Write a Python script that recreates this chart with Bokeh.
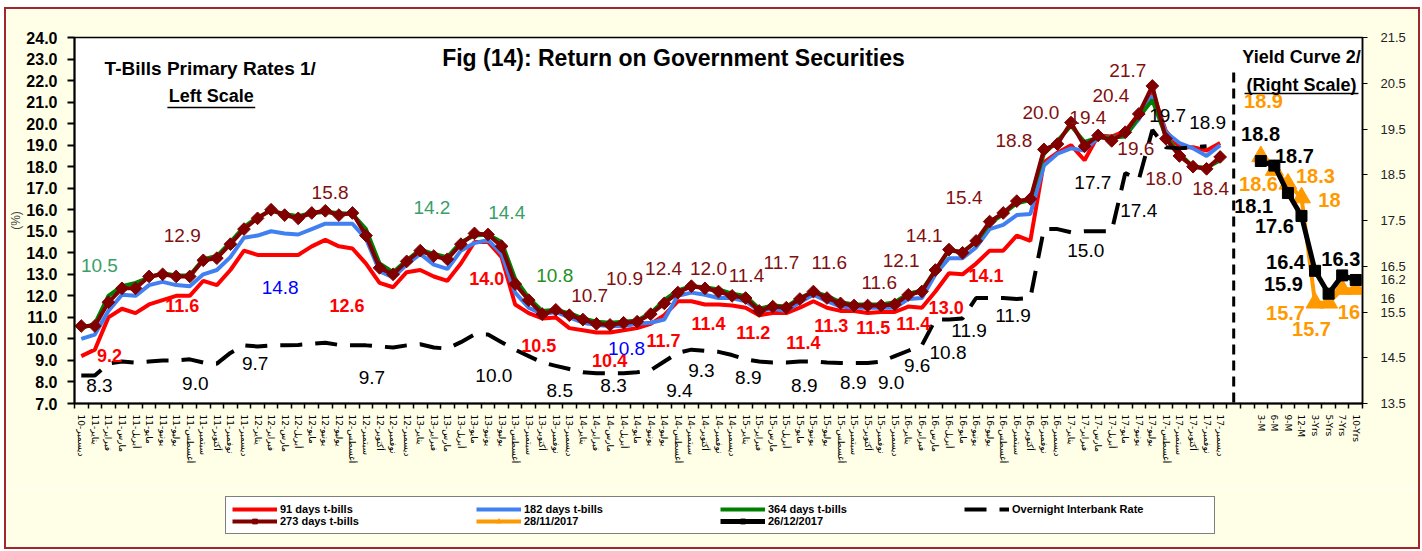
import math
from bokeh.plotting import figure
from bokeh.layouts import column
from bokeh.models import (Range1d, LinearAxis, FixedTicker, PrintfTickFormatter,
                          Label, Legend, LegendItem)
from bokeh.embed import file_html
from bokeh.resources import INLINE

FONT = "Liberation Sans"

# ---------------- data ----------------
months_ar = ["يناير", "فبراير", "مارس", "أبريل", "مايو", "يونيو",
             "يوليو", "أغسطس", "سبتمبر", "أكتوبر", "نوفمبر", "ديسمبر"]
month_labels = ["ديسمبر-10"] + [f"{m}-{y}" for y in range(11, 18) for m in months_ar]
yield_labels = ["3-M", "6-M", "9-M", "12-M", "3-Yrs", "5-Yrs", "7-Yrs", "10-Yrs"]

tb91 = [9.2, 9.5, 11.0, 11.4, 11.2, 11.6, 11.8, 12.0, 12.0, 12.7, 12.5, 13.2,
        14.1, 13.9, 13.9, 13.9, 13.9, 14.3, 14.6, 14.3, 14.2, 13.5, 12.6, 12.4,
        13.1, 13.2, 12.9, 12.7, 13.5, 14.5, 14.5, 13.8, 11.6, 11.2, 10.95, 11.0,
        10.5, 10.4, 10.3, 10.3, 10.4, 10.5, 10.7, 11.1, 11.75, 11.75, 11.6, 11.6,
        11.55, 11.45, 11.1, 11.2, 11.2, 11.45, 11.75, 11.45, 11.3, 11.3, 11.2, 11.25,
        11.25, 11.5, 11.45, 12.2, 13.05, 13.0, 13.5, 14.1, 14.1, 14.8, 14.55, 18.2,
        18.65, 19.0, 18.3, 19.45, 19.4, 19.65, 20.45, 21.5, 19.65, 18.9, 18.9, 18.75,
        19.1]
tb182 = [10.0, 10.2, 11.3, 12.05, 12.0, 12.5, 12.65, 12.5, 12.45, 13.0, 13.2, 13.8,
         14.7, 14.8, 15.0, 14.9, 14.85, 15.1, 15.35, 15.35, 15.35, 14.65, 13.15, 12.85,
         13.45, 13.95, 13.45, 13.25, 14.1, 14.45, 14.6, 13.95, 12.15, 11.45, 11.15, 11.25,
         11.0, 10.75, 10.65, 10.6, 10.6, 10.7, 10.75, 10.9, 12.0, 12.15, 12.05, 11.9,
         11.9, 11.75, 11.3, 11.4, 11.3, 11.7, 12.05, 11.75, 11.5, 11.45, 11.45, 11.45,
         11.45, 11.85, 11.9, 13.0, 13.75, 13.75, 14.25, 15.1, 15.3, 15.75, 15.8, 18.05,
         18.6, 18.85, 18.75, 19.35, 19.35, 19.45, 20.2, 21.3, 19.6, 19.1, 18.85, 18.5,
         19.0]
tb364 = [10.5, 10.7, 12.0, 12.45, 12.6, 12.85, 13.05, 12.95, 12.95, 13.7, 13.85, 14.5,
         15.2, 15.65, 15.95, 15.8, 15.7, 15.85, 15.9, 15.85, 15.8, 15.1, 13.5, 13.1,
         13.65, 14.15, 13.95, 13.8, 14.5, 14.8, 14.85, 14.5, 12.8, 11.9, 11.3, 11.35,
         11.2, 10.95, 10.8, 10.75, 10.8, 10.85, 11.2, 11.8, 12.25, 12.45, 12.4, 12.3,
         12.1, 12.0, 11.4, 11.55, 11.5, 11.9, 12.2, 12.0, 11.7, 11.6, 11.6, 11.6,
         11.7, 12.1, 12.25, 13.2, 14.1, 14.05, 14.5, 15.35, 15.8, 16.3, 16.45, 18.6,
         19.2, 19.9, 19.15, 19.35, 19.35, 19.4, 20.3, 21.1, 19.4, 18.6, 18.0, 17.95,
         18.3]
tb273 = [10.6, 10.6, 11.7, 12.35, 12.35, 12.9, 13.0, 12.9, 12.9, 13.65, 13.75, 14.4,
         15.1, 15.6, 16.0, 15.75, 15.6, 15.85, 15.95, 15.75, 15.85, 14.8, 13.3, 13.0,
         13.6, 14.1, 13.85, 13.7, 14.4, 14.9, 14.85, 14.3, 12.55, 11.8, 11.15, 11.35,
         11.1, 10.9, 10.7, 10.65, 10.75, 10.8, 11.15, 11.65, 12.15, 12.45, 12.35, 12.2,
         12.0, 11.9, 11.3, 11.5, 11.45, 11.85, 12.2, 11.9, 11.65, 11.55, 11.55, 11.55,
         11.6, 12.05, 12.2, 13.2, 14.15, 14.0, 14.55, 15.45, 15.85, 16.4, 16.5, 18.8,
         19.05, 20.05, 18.95, 19.45, 19.2, 19.6, 20.45, 21.75, 19.3, 18.5, 18.0, 17.9,
         18.45]
interbank = [8.3, 8.3, 8.85, 8.95, 8.9, 8.95, 9.0, 9.0, 9.05, 8.9, 8.85, 9.35,
             9.7, 9.65, 9.7, 9.7, 9.72, 9.77, 9.82, 9.72, 9.7, 9.7, 9.65, 9.6,
             9.7, 9.75, 9.6, 9.55, 9.85, 10.2, 10.2, 9.85, 9.5, 9.2, 8.9, 8.75,
             8.6, 8.45, 8.4, 8.4, 8.4, 8.45, 8.55, 8.95, 9.35, 9.5, 9.45, 9.4,
             9.25, 9.05, 8.95, 8.9, 8.9, 8.95, 8.95, 8.9, 8.88, 8.88, 8.88, 8.95,
             9.2, 9.45, 9.7, 10.9, 10.9, 10.95, 11.9, 11.9, 11.9, 11.85, 11.9, 15.1,
             15.1, 14.95, 15.0, 15.0, 15.0, 17.7, 17.4, 19.7, 18.9, 18.85, 18.9, 18.95,
             float("nan")]
yc_nov = [18.9, 18.6, 18.3, 18.0, 15.7, 15.7, 16.0, 16.0]   # 28/11/2017
yc_dec = [18.8, 18.7, 18.1, 17.6, 16.4, 15.9, 16.3, 16.2]   # 26/12/2017

month_x = list(range(len(month_labels)))
yield_x = list(range(87, 87 + len(yield_labels)))
right_ticks = [13.5 + k for k in range(9)]

# value labels: (text, x, y, style)
left_labels = [
    ("10.5", 1.34, 13.41, "g"), ("9.2", 2.08, 9.23, "r"), ("8.3", 1.34, 7.84, "k"),
    ("12.9", 7.45, 14.80, "d"), ("11.6", 7.45, 11.55, "r"), ("9.0", 8.41, 7.93, "k"),
    ("9.7", 12.83, 8.86, "k"), ("14.8", 14.67, 12.39, "b"), ("15.8", 18.35, 16.80, "d"),
    ("12.6", 19.6, 11.55, "r"), ("9.7", 21.44, 8.21, "k"), ("14.2", 25.86, 16.10, "g"),
    ("14.4", 31.38, 15.87, "g"), ("14.0", 29.91, 12.81, "r"), ("10.0", 30.43, 8.30, "k"),
    ("10.8", 34.92, 12.95, "g2"), ("10.5", 33.74, 9.69, "r"), ("8.5", 35.29, 7.60, "k"),
    ("10.7", 37.5, 12.02, "d"), ("10.9", 40.07, 12.81, "d"), ("10.4", 38.97, 9.0, "r"),
    ("10.8", 40.22, 9.55, "b"), ("8.3", 39.26, 7.84, "k"), ("12.4", 42.95, 13.27, "d"),
    ("12.0", 46.26, 13.27, "d"), ("11.7", 42.95, 9.93, "r"), ("9.4", 44.12, 7.60, "k"),
    ("11.4", 46.26, 10.72, "r"), ("9.3", 45.74, 8.53, "k"), ("11.4", 49.06, 12.95, "d"),
    ("11.2", 49.57, 10.30, "r"), ("8.9", 49.2, 8.21, "k"), ("11.7", 51.64, 13.55, "d"),
    ("11.4", 53.26, 9.83, "r"), ("8.9", 53.33, 7.84, "k"), ("11.6", 55.17, 13.55, "d"),
    ("11.3", 55.32, 10.62, "r"), ("11.5", 58.41, 10.53, "r"), ("8.9", 56.94, 7.98, "k"),
    ("9.0", 59.74, 7.98, "k"), ("11.6", 58.85, 12.62, "d"), ("11.4", 61.36, 10.72, "r"),
    ("12.1", 60.47, 13.64, "d"), ("9.6", 61.65, 8.76, "k"), ("14.1", 62.17, 14.80, "d"),
    ("13.0", 63.79, 11.46, "r"), ("10.8", 63.93, 9.37, "k"), ("11.9", 65.48, 10.39, "k"),
    ("11.9", 68.72, 11.09, "k"), ("15.4", 65.11, 16.57, "d"), ("14.1", 66.73, 12.95, "r"),
    ("18.8", 68.79, 19.22, "d"), ("20.0", 70.78, 20.52, "d"), ("19.4", 74.24, 20.28, "d"),
    ("15.0", 74.09, 14.11, "k"), ("17.7", 74.61, 17.26, "k"), ("20.4", 75.94, 21.31, "d"),
    ("21.7", 77.19, 22.47, "d"), ("19.6", 77.78, 18.84, "d"), ("17.4", 78.0, 15.96, "k"),
    ("19.7", 80.13, 20.38, "k"), ("18.9", 83.08, 20.05, "k"), ("18.0", 79.84, 17.45, "d"),
    ("18.4", 83.3, 16.99, "d"),
]
right_labels = [
    ("18.9", 87.2, 20.12, "o"), ("18.8", 86.98, 19.40, "k"), ("18.7", 89.48, 18.92, "k"),
    ("18.6", 86.83, 18.29, "o"), ("18.3", 91.03, 18.48, "o"), ("18", 92.06, 17.94, "o"),
    ("18.1", 86.47, 17.81, "k"), ("17.6", 88.0, 17.37, "k"), ("16.4", 88.82, 16.60, "k"),
    ("16.3", 92.9, 16.65, "k"), ("15.9", 88.67, 16.12, "k"),
    ("15.7", 88.82, 15.47, "o"), ("15.7", 90.74, 15.12, "o"), ("16", 93.5, 15.51, "o"),
]
# the two value labels that sit right of the plotting area (right-scale value, text)
edge_labels = {16.2: "16.2", 15.8: "16"}

X_END = 94.5
# ---------------- main figure ----------------
p = figure(width=1412, height=480, x_range=Range1d(-0.5, X_END), y_range=Range1d(7, 24),
           output_backend="svg", toolbar_location=None, title=None,
           min_border_left=66, min_border_right=56, min_border_top=28, min_border_bottom=86,
           background_fill_color="white", border_fill_color="#FFFFE8")
p.extra_y_ranges = {"r": Range1d(13.5, 21.5)}
p.outline_line_color = "black"
p.outline_line_width = 1.5
p.xgrid.visible = False
p.ygrid.visible = False

# category axis (months, then the yield-curve maturities)
xa = p.xaxis[0]
xa.ticker = FixedTicker(ticks=month_x + yield_x, minor_ticks=[i - 0.5 for i in range(96)])
overrides = {i: lab for i, lab in zip(month_x, month_labels)}
overrides.update({i: lab for i, lab in zip(yield_x, yield_labels)})
xa.major_label_overrides = overrides
xa.major_label_orientation = -math.pi / 2
xa.major_label_text_font = "DejaVu Sans"
xa.major_label_text_font_size = "9px"
xa.major_label_text_color = "black"
xa.major_label_standoff = 6
xa.major_tick_line_color = None
xa.major_tick_out = 0
xa.major_tick_in = 0
xa.minor_tick_line_color = "black"
xa.minor_tick_line_width = 1.5
xa.minor_tick_out = 5
xa.minor_tick_in = 0
xa.axis_line_width = 2

# left axis
ya = p.yaxis[0]
ya.ticker = FixedTicker(ticks=list(range(7, 25)))
ya.formatter = PrintfTickFormatter(format="%.1f")
ya.major_label_text_font = FONT
ya.major_label_text_font_style = "bold"
ya.major_label_text_font_size = "16px"
ya.major_label_text_color = "black"
ya.major_label_standoff = 10
ya.major_tick_out = 7
ya.major_tick_in = 0
ya.major_tick_line_width = 2
ya.minor_tick_line_color = None
ya.axis_line_width = 2
ya.axis_label = "(%)"
ya.axis_label_text_font = FONT
ya.axis_label_text_font_size = "12px"
ya.axis_label_text_font_style = "normal"
ya.axis_label_standoff = 0

# right scale for the yield curve (the two edge value labels ride on it;
# tick marks are drawn as minor ticks at the real scale values only)
ra = LinearAxis(y_range_name="r",
                ticker=FixedTicker(ticks=right_ticks + list(edge_labels), minor_ticks=right_ticks),
                formatter=PrintfTickFormatter(format="%.1f"),
                major_label_overrides=edge_labels)
ra.major_label_text_font = FONT
ra.major_label_text_font_size = "13px"
ra.major_label_text_color = "#222222"
ra.major_label_standoff = 13
ra.major_tick_out = 5
ra.major_tick_in = 0
ra.major_tick_line_color = None
ra.minor_tick_out = 5
ra.minor_tick_in = 0
ra.minor_tick_line_color = "black"
ra.axis_line_width = 1.5
p.add_layout(ra, "right")

# ---------------- series ----------------
LINE_STYLE = {
    "91": dict(line_color="#FF0000", line_width=4),
    "182": dict(line_color="#4080F0", line_width=4),
    "364": dict(line_color="#008000", line_width=4),
    "273": dict(line_color="#800000", line_width=4),
    "ib": dict(line_color="black", line_width=4, line_dash="22 13"),
    "nov": dict(line_color="#FF9900", line_width=4),
    "dec": dict(line_color="black", line_width=5),
}
MARK_STYLE = {
    "273": dict(marker="square", angle=math.pi / 4, size=9, fill_color="#800000",
                line_color="#800000"),
    "nov": dict(marker="triangle", size=18, fill_color="#FF9900", line_color="#FF9900"),
    "dec": dict(marker="square", size=11, fill_color="black", line_color="black"),
}
SERIES = {
    "91": (month_x, tb91, "default"), "182": (month_x, tb182, "default"),
    "364": (month_x, tb364, "default"), "273": (month_x, tb273, "default"),
    "ib": (month_x, interbank, "default"),
    "nov": (yield_x, yc_nov, "r"), "dec": (yield_x, yc_dec, "r"),
}

for name in ["91", "182", "364", "273", "ib", "nov", "dec"]:
    xs, ys, rng = SERIES[name]
    p.line(xs, ys, y_range_name=rng, **LINE_STYLE[name])
    if name in MARK_STYLE:
        p.scatter(xs, ys, y_range_name=rng, **MARK_STYLE[name])

# separator between the monthly series and the yield curve
p.segment(x0=[85], y0=[22.37], x1=[85], y1=[7], line_color="black", line_width=3,
          line_dash="10 6")

# ---------------- labels ----------------
STY = {
    "g": ("#3A9E68", "normal", "19px"), "g2": ("#1F901F", "normal", "19px"),
    "r": ("#FF0000", "bold", "18px"), "b": ("#0000FF", "normal", "19px"),
    "d": ("#7F1010", "normal", "19px"), "k": ("#000000", "normal", "19px"),
    "o": ("#FF9900", "bold", "20px"),
}


def add_label(text, x, y, color, style, size, rng="default"):
    p.add_layout(Label(x=x, y=y, text=text, y_range_name=rng, text_color=color,
                       text_font=FONT, text_font_style=style, text_font_size=size,
                       text_align="center", text_baseline="middle"))


for t, x, y, s in left_labels:
    c, w, sz = STY[s]
    add_label(t, x, y, c, w, sz)
for t, x, y, s in right_labels:
    c, w, sz = STY[s]
    if s == "k":
        w, sz = "bold", "20px"
    add_label(t, x, y, c, w, sz, rng="r")

add_label("Fig (14): Return on Government Securities", 43.68, 23.07, "black", "bold", "23px")
add_label("T-Bills Primary Rates 1/", 9.51, 22.56, "black", "bold", "19px")
add_label("Left Scale", 9.59, 21.26, "black", "bold", "18px")
add_label("Yield Curve 2/", 90.0, 23.09, "black", "bold", "18px")
add_label("(Right Scale)", 90.0, 21.78, "black", "bold", "18px")

p.segment(x0=[6.35, 85.8], y0=[20.75, 21.40], x1=[12.83, 94.2], y1=[20.75, 21.40],
          line_color="black", line_width=1.5)

# ---------------- legend strip (below the chart) ----------------
# the strip's ranges show none of the data, so only the legend keys are visible
lg = figure(width=1412, height=58, x_range=Range1d(-3, -2), y_range=Range1d(-3, -2),
            output_backend="svg", toolbar_location=None, title=None,
            x_axis_type=None, y_axis_type=None,
            min_border_left=0, min_border_right=0, min_border_top=0, min_border_bottom=0,
            background_fill_color="#FFFFE8", border_fill_color="#FFFFE8")
lg.outline_line_color = None
lg.grid.visible = False


def key(name):
    xs, ys, _ = SERIES[name]
    rs = [lg.line(xs, ys, **LINE_STYLE[name])]
    if name in MARK_STYLE:
        rs.append(lg.scatter(xs, ys, **MARK_STYLE[name]))
    return rs


items = [
    LegendItem(label="91 days t-bills", renderers=key("91")),
    LegendItem(label="182 days t-bills", renderers=key("182")),
    LegendItem(label="364 days t-bills", renderers=key("364")),
    LegendItem(label="Overnight Interbank Rate", renderers=key("ib")),
    LegendItem(label="273 days t-bills", renderers=key("273")),
    LegendItem(label="28/11/2017", renderers=key("nov")),
    LegendItem(label="26/12/2017", renderers=key("dec")),
]
legend = Legend(items=items, location=(151, 13), orientation="horizontal", ncols=4,
                glyph_width=45, glyph_height=12, label_height=12, label_width=196,
                label_standoff=3, spacing=0, padding=6, margin=0,
                label_text_font=FONT, label_text_font_size="11px",
                label_text_font_style="bold", label_text_color="black",
                border_line_color="black", border_line_width=1.5,
                background_fill_color="white", background_fill_alpha=1.0)
lg.add_layout(legend)

page = column(p, lg, spacing=0,
              styles={"margin-left": "4px", "margin-top": "7px",
                      "border": "2px solid #A3262A"})

open("out.html", "w").write(file_html(page, INLINE))
